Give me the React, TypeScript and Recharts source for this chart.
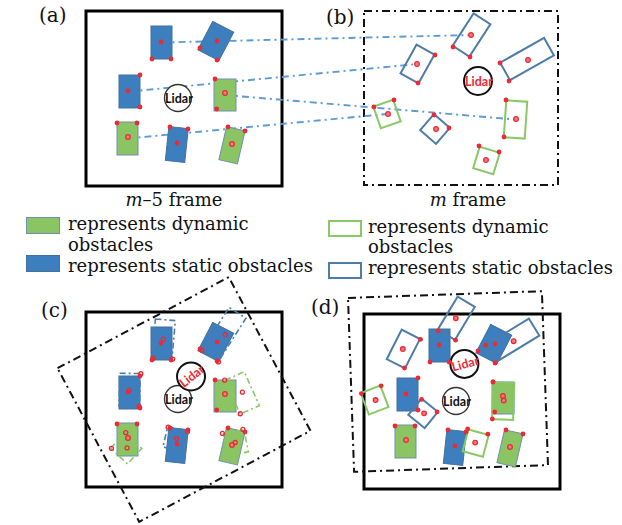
import { ComposedChart, Scatter, XAxis, YAxis } from "recharts";

const W = 622;
const H = 525;

// obstacles in the m-5 frame: centre, size and heading in degrees
const m5Obstacles = [
  { x: 161.5, y: 42.5, w: 21, h: 33, a: 0, kind: "static" },
  { x: 215.8, y: 41, w: 23.7, h: 32, a: 27.6, kind: "static" },
  { x: 129.5, y: 91.5, w: 21, h: 33, a: 0, kind: "static" },
  { x: 225, y: 95, w: 22, h: 32, a: 0, kind: "dynamic" },
  { x: 127.5, y: 138.5, w: 21, h: 33, a: 0, kind: "dynamic" },
  { x: 176.8, y: 144.5, w: 19.5, h: 34, a: 6, kind: "static" },
  { x: 232, y: 145.3, w: 19, h: 34, a: 13, kind: "dynamic" },
];
const m5Dots = [
  { x: 161, y: 42, ring: false }, { x: 152, y: 59, ring: false }, { x: 171, y: 59, ring: false },
  { x: 217, y: 41, ring: false }, { x: 200, y: 48, ring: false }, { x: 217, y: 60, ring: false },
  { x: 128, y: 91, ring: false }, { x: 140, y: 75, ring: false }, { x: 140, y: 107, ring: false },
  { x: 225, y: 93, ring: true }, { x: 215, y: 79, ring: false }, { x: 216.7, y: 109, ring: false },
  { x: 117, y: 123, ring: false }, { x: 137, y: 123, ring: false }, { x: 128, y: 137, ring: true },
  { x: 170, y: 127, ring: false }, { x: 188, y: 129, ring: false }, { x: 177, y: 143, ring: false },
  { x: 228, y: 127, ring: false }, { x: 245, y: 131, ring: false }, { x: 232, y: 144, ring: true },
];

// obstacles in the m frame
const mObstacles = [
  { x: 471.5, y: 35, w: 20, h: 38.5, a: 33, kind: "static" },
  { x: 417.5, y: 64, w: 20.5, h: 33, a: 29, kind: "static" },
  { x: 527, y: 59, w: 50.5, h: 20, a: -29.5, kind: "static" },
  { x: 387, y: 114, w: 21, h: 23, a: -19, kind: "dynamic" },
  { x: 515.5, y: 119.5, w: 21, h: 37, a: 4, kind: "dynamic" },
  { x: 435, y: 129, w: 21, h: 21, a: 41, kind: "static" },
  { x: 486.5, y: 160.5, w: 21, h: 22.5, a: 17, kind: "dynamic" },
];
const mDots = [
  { x: 471, y: 35, ring: true }, { x: 453, y: 47, ring: false }, { x: 470, y: 57, ring: false },
  { x: 417, y: 64, ring: true }, { x: 435, y: 55, ring: false }, { x: 418, y: 83, ring: false },
  { x: 528, y: 60, ring: true }, { x: 500, y: 63, ring: false }, { x: 509, y: 81, ring: false },
  { x: 374, y: 107, ring: false }, { x: 394, y: 100, ring: false }, { x: 388, y: 114, ring: true },
  { x: 506, y: 100, ring: false }, { x: 504, y: 137, ring: false }, { x: 516, y: 119, ring: true },
  { x: 434, y: 115, ring: false }, { x: 449, y: 128, ring: false }, { x: 436, y: 129, ring: true },
  { x: 479, y: 146, ring: false }, { x: 499, y: 152, ring: false }, { x: 486, y: 160, ring: true },
];

const m5Lidar = { x: 178, y: 98, r: 13.5 };
const mLidar = { x: 478, y: 81, r: 14 };
const m5Frame = { x: 184, y: 98.5, w: 196, h: 175, a: 0 };
const mFrame = { x: 461, y: 98, w: 194, h: 174, a: 0 };

// matched pairs: [index in m5Obstacles, index in mObstacles]
const links = [
  [0, 0],
  [2, 1],
  [3, 4],
  [4, 3],
];

// how the two frames are laid down in panels (c) and (d)
const panelC = { dx: 0, dy: 301, x: 184, y: 399.5, rot: -28, tilt: -38 };
const panelD = { dx: 278, dy: 303, x: 448, y: 381.5, rot: -2, tilt: -15 };

const BLUE = "#3d7ebf";
const BLUE_EDGE = "#4d7ca8";
const GREEN = "#8bc462";
const GREEN_EDGE = "#88c866";
const RED = "#ec2a36";
const LINK = "#5b9bd5";
const DASH_DOT = "8 4 2 4";

const SX = W / W; // px per data unit (domain spans the whole chart)

const shift = (p: any, t: any) => ({ ...p, x: p.x + t.dx, y: p.y + t.dy });
const pose = (p: any, t: any) => {
  const r = (t.rot * Math.PI) / 180;
  const dx = p.x - mFrame.x;
  const dy = p.y - mFrame.y;
  return {
    ...p,
    x: t.x + dx * Math.cos(r) - dy * Math.sin(r),
    y: t.y + dx * Math.sin(r) + dy * Math.cos(r),
    a: (p.a ?? 0) + t.rot,
  };
};

type BoxStyle = { filled?: boolean; sw?: number; dash?: string; stroke?: string };

const boxShape = (st: BoxStyle) => (props: any) => {
  const { cx, cy, payload } = props;
  const w = payload.w * SX;
  const h = payload.h * SX;
  const isStatic = payload.kind === "static";
  const fill = st.filled ? (isStatic ? BLUE : GREEN) : "none";
  const stroke =
    st.stroke ?? (st.filled ? (isStatic ? "#41719c" : "#6f8fb3") : isStatic ? BLUE_EDGE : GREEN_EDGE);
  return (
    <rect
      x={cx - w / 2}
      y={cy - h / 2}
      width={w}
      height={h}
      transform={`rotate(${payload.a} ${cx} ${cy})`}
      fill={fill}
      stroke={stroke}
      strokeWidth={st.sw ?? 1}
      strokeDasharray={st.dash}
    />
  );
};

const dotShape = (small: boolean) => (props: any) => {
  const { cx, cy, payload } = props;
  if (small) {
    return <circle cx={cx} cy={cy} r={2} fill="none" stroke={RED} strokeWidth={1.3} />;
  }
  return payload.ring ? (
    <circle cx={cx} cy={cy} r={2.3} fill="#f27b7f" stroke={RED} strokeWidth={1.3} />
  ) : (
    <circle cx={cx} cy={cy} r={2.4} fill={RED} />
  );
};

const lidarShape = (red: boolean, tilt: number, sw: number) => (props: any) => {
  const { cx, cy, payload } = props;
  return (
    <g>
      <circle cx={cx} cy={cy} r={payload.r * SX} fill="#fff" stroke={red ? "#111" : "#333"} strokeWidth={sw} />
      <text
        x={cx + 1}
        y={cy}
        textAnchor="middle"
        dominantBaseline="central"
        fontFamily="Lato, 'Liberation Sans', sans-serif"
        fontWeight={700}
        fontSize={12.5}
        fill={red ? RED : "#111"}
        transform={`rotate(${tilt} ${cx} ${cy})`}
      >
        Lidar
      </text>
    </g>
  );
};

const none = () => <g />;

const serif = "'DejaVu Serif', serif";

const Label = ({ x, y, children, center, size = 18 }: any) => (
  <div
    style={{
      position: "absolute",
      left: center ? x - 100 : x,
      width: center ? 200 : undefined,
      textAlign: center ? "center" : "left",
      top: y - 12,
      lineHeight: "24px",
      fontFamily: serif,
      fontSize: size,
      color: "#111",
      whiteSpace: "nowrap",
    }}
  >
    {children}
  </div>
);

const Swatch = ({ x, y, filled, color, edge }: any) => (
  <div
    style={{
      position: "absolute",
      left: x,
      top: y,
      width: 34,
      height: 17,
      boxSizing: "border-box",
      background: filled ? color : "#fff",
      border: `${filled ? 1 : 2}px solid ${edge}`,
    }}
  />
);

export default function App() {
  const aBoxesC = m5Obstacles.map((o) => shift(o, panelC));
  const aBoxesD = m5Obstacles.map((o) => shift(o, panelD));
  const bBoxesC = mObstacles.map((o) => pose(o, panelC));
  const bBoxesD = mObstacles.map((o) => pose(o, panelD));
  const aDotsC = m5Dots.map((d) => shift(d, panelC));
  const aDotsD = m5Dots.map((d) => shift(d, panelD));
  const bDotsC = mDots.map((d) => pose(d, panelC));
  const bDotsD = mDots.map((d) => pose(d, panelD));

  const solidFrames = [m5Frame, shift(m5Frame, panelC), shift(m5Frame, panelD)];
  const dashFrames = [mFrame, pose(mFrame, panelC), pose(mFrame, panelD)];

  return (
    <div style={{ position: "absolute", left: 0, top: 0, width: W, height: H, background: "#fff" }}>
      <ComposedChart width={W} height={H} margin={{ top: 0, right: 0, bottom: 0, left: 0 }}>
        <XAxis dataKey="x" type="number" domain={[0, W]} allowDataOverflow hide />
        <YAxis dataKey="y" type="number" domain={[0, H]} allowDataOverflow reversed hide />

        <Scatter data={solidFrames} shape={boxShape({ sw: 3, stroke: "#000" })} isAnimationActive={false} />
        <Scatter data={dashFrames} shape={boxShape({ sw: 2, stroke: "#111", dash: DASH_DOT })} isAnimationActive={false} />

        {links.map(([i, j], k) => (
          <Scatter
            key={`link-${k}`}
            data={[
              { x: m5Obstacles[i].x, y: m5Obstacles[i].y },
              { x: mObstacles[j].x, y: mObstacles[j].y },
            ]}
            line={{ stroke: LINK, strokeWidth: 1.9, strokeDasharray: "7 4 2 4" }}
            shape={none}
            isAnimationActive={false}
          />
        ))}

        {/* (a) and (b) */}
        <Scatter data={m5Obstacles} shape={boxShape({ filled: true })} isAnimationActive={false} />
        <Scatter data={mObstacles} shape={boxShape({ sw: 2 })} isAnimationActive={false} />
        <Scatter data={[m5Lidar]} shape={lidarShape(false, 0, 1.3)} isAnimationActive={false} />
        <Scatter data={[mLidar]} shape={lidarShape(true, 0, 2)} isAnimationActive={false} />
        <Scatter data={m5Dots} shape={dotShape(false)} isAnimationActive={false} />
        <Scatter data={mDots} shape={dotShape(false)} isAnimationActive={false} />

        {/* (c): m frame rotated onto the m-5 frame */}
        <Scatter data={aBoxesC} shape={boxShape({ filled: true })} isAnimationActive={false} />
        <Scatter data={bBoxesC} shape={boxShape({ sw: 1.6, dash: "6 3 2 3" })} isAnimationActive={false} />
        <Scatter data={[shift(m5Lidar, panelC)]} shape={lidarShape(false, 0, 1.3)} isAnimationActive={false} />
        <Scatter data={[pose(mLidar, panelC)]} shape={lidarShape(true, panelC.tilt, 2)} isAnimationActive={false} />
        <Scatter data={aDotsC} shape={dotShape(false)} isAnimationActive={false} />
        <Scatter data={bDotsC} shape={dotShape(true)} isAnimationActive={false} />

        {/* (d): m frame laid over without alignment */}
        <Scatter data={aBoxesD} shape={boxShape({ filled: true })} isAnimationActive={false} />
        <Scatter data={bBoxesD} shape={boxShape({ sw: 2 })} isAnimationActive={false} />
        <Scatter data={[shift(m5Lidar, panelD)]} shape={lidarShape(false, 0, 1.3)} isAnimationActive={false} />
        <Scatter data={[pose(mLidar, panelD)]} shape={lidarShape(true, panelD.tilt, 2)} isAnimationActive={false} />
        <Scatter data={aDotsD} shape={dotShape(false)} isAnimationActive={false} />
        <Scatter data={bDotsD} shape={dotShape(false)} isAnimationActive={false} />
      </ComposedChart>

      <Label x={39} y={15} size={20}>(a)</Label>
      <Label x={326} y={17} size={20}>(b)</Label>
      <Label x={41} y={310} size={20}>(c)</Label>
      <Label x={311} y={307} size={20}>(d)</Label>

      <Label x={174} y={200} center>
        <i>m</i>–5 frame
      </Label>
      <Label x={468} y={200} center>
        <i>m</i> frame
      </Label>

      <Swatch x={26} y={217} filled color={GREEN} edge="#6f8fb3" />
      <Label x={68} y={224}>represents dynamic</Label>
      <Label x={68} y={245}>obstacles</Label>
      <Swatch x={26} y={255} filled color={BLUE} edge="#41719c" />
      <Label x={68} y={266}>represents static obstacles</Label>

      <Swatch x={328} y={220} color={GREEN} edge={GREEN_EDGE} />
      <Label x={368} y={227}>represents dynamic</Label>
      <Label x={368} y={247}>obstacles</Label>
      <Swatch x={328} y={262} color={BLUE} edge={BLUE_EDGE} />
      <Label x={368} y={268}>represents static obstacles</Label>
    </div>
  );
}
